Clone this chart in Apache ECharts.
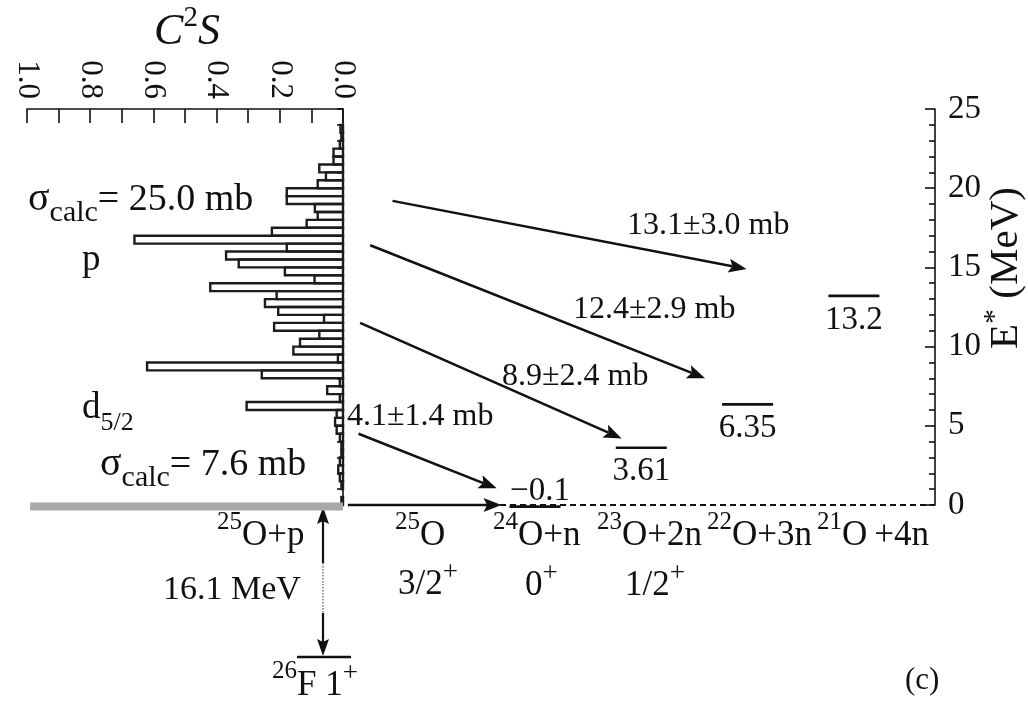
<!DOCTYPE html>
<html>
<head>
<meta charset="utf-8">
<script src="https://cdn.jsdelivr.net/npm/echarts@6/dist/echarts.min.js"></script>
<style>
  html, body { margin: 0; padding: 0; background: #fff; }
  #chart { width: 1028px; height: 704px; }
</style>
</head>
<body>
<div id="chart"></div>
<script>
// ---- data -------------------------------------------------------------
// Calculated spectroscopic strength C2S for 26F(1+) -> 25O* + p, in 0.5 MeV bins
const binWidth = 0.5;
const binLow = [0, 0.5, 1, 1.5, 2, 2.5, 3, 3.5, 4, 4.5, 5, 5.5, 6, 6.5, 7, 7.5, 8, 8.5, 9, 9.5,
  10, 10.5, 11, 11.5, 12, 12.5, 13, 13.5, 14, 14.5, 15, 15.5, 16, 16.5, 17, 17.5, 18, 18.5, 19, 19.5,
  20, 20.5, 21, 21.5, 22, 22.5, 23, 23.5, 24];
const c2s = [0.005, 0, 0.005, 0.01, 0.015, 0.01, 0.005, 0.005, 0.01, 0.02, 0.025, 0.02, 0.305, 0.01, 0.05, 0.01, 0.257, 0.62, 0.016, 0.157,
  0.136, 0.075, 0.218, 0.06, 0.205, 0.247, 0.21, 0.42, 0.09, 0.184, 0.33, 0.37, 0.178, 0.66, 0.225, 0.115, 0.08, 0.089, 0.178, 0.178,
  0.08, 0.054, 0.075, 0.03, 0.03, 0.01, 0.005, 0.008, 0];

// 25O + p threshold
const thresholdE = -0.1;

// Decay channels and the lowest level in each (MeV)
const channelNames = ['25O', '24O+n', '23O+2n', '22O+3n', '21O+4n'];
const levelChannel = [1, 2, 3, 4];
const levelEnergy = [-0.1, 3.61, 6.35, 13.2];

// Measured partial cross sections, and the energies each transition connects
const xsecLabels = ['13.1±3.0 mb', '12.4±2.9 mb', '8.9±2.4 mb', '4.1±1.4 mb'];
const arrowFromE = [19.2, 16.4, 11.5, 4.5, 0];
const arrowToE = [14.9, 8.0, 4.2, 1.05, 0];

// Axis ticks
const c2sTicks = ['1.0', '0.8', '0.6', '0.4', '0.2', '0.0'];
const energyTicks = ['0', '5', '10', '15', '20', '25'];

const protonSeparation = '16.1 MeV';
const sigmaHigh = '25.0 mb';
const sigmaLow = '7.6 mb';

// ---- layout ------------------------------------------------------------
const FONT = '"Liberation Serif","Times New Roman",serif';
const INK = '#111';
// horizontal slots (channel units) where each arrow starts and ends
const arrowStartSlot = [-0.34, -0.55, -0.645, -0.66, -0.76];
const arrowEndSlot = [2.99, 2.6, 1.815, 0.64, 0.685];
const levelHalfWidth = 0.24;

const mctx = document.createElement('canvas').getContext('2d');
function textWidth(t, size, style) {
  mctx.font = (style || 'normal') + ' ' + size + 'px ' + FONT;
  return mctx.measureText(t).width;
}
// A run of text pieces sharing one baseline: [text, size, baselineShift, fontStyle]
function textRun(x, y, parts, align, rotation) {
  let total = 0;
  parts.forEach(p => { total += textWidth(p[0], p[1], p[3]); });
  let cx = align === 'center' ? -total / 2 : (align === 'right' ? -total : 0);
  const children = parts.map(p => {
    const el = {
      type: 'text', x: cx, y: (p[2] || 0) - 0.34 * p[1],
      style: { text: p[0], fontSize: p[1], fontFamily: FONT, fontStyle: p[3] || 'normal',
               fill: INK, align: 'left', verticalAlign: 'middle' }
    };
    cx += textWidth(p[0], p[1], p[3]);
    return el;
  });
  return { type: 'group', x: x, y: y, rotation: rotation || 0, silent: true, children: children };
}
function iso(mass, rest, x, y, size) {
  const s = size || 35;
  return textRun(x, y, [[mass, Math.round(s * 0.7), -0.5 * s], [rest, s, 0]], 'left');
}

const histData = binLow.map((lo, i) => [lo, lo + binWidth, c2s[i]]).filter(d => d[2] > 0);
const levelData = levelEnergy.map((e, i) => [levelChannel[i], e, i]);
const arrowData = arrowFromE.map((e, i) => [arrowStartSlot[i], e, arrowEndSlot[i], arrowToE[i]]);

const chart = echarts.init(document.getElementById('chart'));

const axisLineStyle = { color: INK, width: 1.6 };

const option = {
  animation: false,
  backgroundColor: '#fff',
  grid: [
    { left: 27, top: 109, width: 316, height: 396 },
    { left: 343, top: 109, width: 592, height: 396 }
  ],
  xAxis: [
    {
      gridIndex: 0, type: 'value', min: 0, max: 1, inverse: true, position: 'top', interval: 0.1,
      axisLine: { show: true, onZero: false, lineStyle: axisLineStyle },
      axisTick: { show: true, inside: true, length: 14, lineStyle: axisLineStyle },
      axisLabel: {
        rotate: 90, margin: 10, fontFamily: FONT, fontSize: 31, color: INK,
        formatter: v => {
          const k = Math.round(v * 10);
          return k % 2 === 0 ? c2sTicks[5 - k / 2] : '';
        }
      },
      splitLine: { show: false }
    },
    { gridIndex: 1, type: 'value', min: -0.806, max: 4.763, show: false }
  ],
  yAxis: [
    {
      gridIndex: 0, type: 'value', min: 0, max: 25, interval: 1, position: 'right',
      axisLine: { show: true, onZero: false, lineStyle: axisLineStyle },
      axisTick: { show: true, inside: true, length: 6, lineStyle: axisLineStyle },
      axisLabel: { show: false }, splitLine: { show: false }
    },
    {
      gridIndex: 1, type: 'value', min: 0, max: 25, interval: 5, position: 'right',
      axisLine: { show: true, onZero: false, lineStyle: axisLineStyle },
      axisTick: { show: true, inside: true, length: 10, lineStyle: axisLineStyle },
      minorTick: { show: true, splitNumber: 5, length: 6, lineStyle: axisLineStyle },
      axisLabel: {
        margin: 13, fontFamily: FONT, fontSize: 33, color: INK,
        formatter: v => energyTicks[Math.round(v / 5)]
      },
      splitLine: { show: false }
    }
  ],
  series: [
    {
      // outlined histogram bars, growing leftwards from C2S = 0
      type: 'custom', xAxisIndex: 0, yAxisIndex: 0, silent: true, clip: false,
      data: histData,
      renderItem: (params, api) => {
        const p0 = api.coord([0, api.value(0)]);
        const p1 = api.coord([api.value(2), api.value(1)]);
        return {
          type: 'rect',
          shape: { x: Math.min(p0[0], p1[0]), y: Math.min(p0[1], p1[1]),
                   width: Math.abs(p1[0] - p0[0]), height: Math.abs(p1[1] - p0[1]) },
          style: { fill: 'none', stroke: '#1c1c1c', lineWidth: 2.4 }
        };
      }
    },
    {
      // 25O + p threshold band
      type: 'line', xAxisIndex: 0, yAxisIndex: 0, silent: true, clip: false,
      symbol: 'none', data: [[0.99, thresholdE], [0, thresholdE]],
      lineStyle: { color: '#a8a8a8', width: 8 }
    },
    {
      // neutron-emission threshold line
      type: 'line', xAxisIndex: 1, yAxisIndex: 1, silent: true, clip: false,
      symbol: 'none', data: [[-0.74, 0], [4.763, 0]],
      lineStyle: { color: INK, width: 2, type: [6, 4] }
    },
    {
      // level bars with their energies
      type: 'custom', xAxisIndex: 1, yAxisIndex: 1, silent: true, clip: false,
      data: levelData,
      renderItem: (params, api) => {
        const slot = api.value(0), e = api.value(1);
        const a = api.coord([slot - levelHalfWidth, e]);
        const b = api.coord([slot + levelHalfWidth, e]);
        const above = e <= 0;
        const txt = e < 0 ? '\u2212' + Math.abs(e) : String(e);
        return {
          type: 'group',
          children: [
            { type: 'line', shape: { x1: a[0], y1: a[1], x2: b[0], y2: b[1] },
              style: { stroke: INK, lineWidth: 2.6 } },
            { type: 'text', x: (a[0] + b[0]) / 2 + (above ? 5 : 0), y: above ? a[1] - 15 : a[1] + 24,
              style: { text: txt, fontSize: 33, fontFamily: FONT, fill: INK, align: 'center', verticalAlign: 'middle' } }
          ]
        };
      }
    },
    {
      // transition arrows
      type: 'custom', xAxisIndex: 1, yAxisIndex: 1, silent: true, clip: false,
      data: arrowData,
      renderItem: (params, api) => {
        const a = api.coord([api.value(0), api.value(1)]);
        const b = api.coord([api.value(2), api.value(3)]);
        const dx = b[0] - a[0], dy = b[1] - a[1];
        const L = Math.hypot(dx, dy), ux = dx / L, uy = dy / L;
        const hl = 18, hw = 7;
        const base = [b[0] - ux * hl, b[1] - uy * hl];
        const notch = [b[0] - ux * hl * 0.8, b[1] - uy * hl * 0.8];
        return {
          type: 'group',
          children: [
            { type: 'line', shape: { x1: a[0], y1: a[1], x2: notch[0], y2: notch[1] },
              style: { stroke: INK, lineWidth: 2.5 } },
            { type: 'polygon',
              shape: { points: [b, [base[0] - uy * hw, base[1] + ux * hw], notch, [base[0] + uy * hw, base[1] - ux * hw]] },
              style: { fill: INK } }
          ]
        };
      }
    }
  ],
  graphic: [
    // axis titles
    textRun(187, 47, [['C', 44, 0, 'italic'], ['2', 29, -19, 'normal'], ['S', 44, 0, 'italic']], 'center'),
    textRun(1020, 268, [['E', 41, 0], ['*', 30, -15], [' (MeV)', 41, 0]], 'center', Math.PI / 2),

    // calculated cross sections of the histogram
    textRun(28, 213, [['σ', 40, 0], ['calc', 30, 10], ['= ' + sigmaHigh, 38, 0]], 'left'),
    textRun(82, 273, [['p', 37, 0]], 'left'),
    textRun(82, 421, [['d', 37, 0], ['5/2', 26, 11]], 'left'),
    textRun(100, 478, [['σ', 40, 0], ['calc', 30, 10], ['= ' + sigmaLow, 38, 0]], 'left'),

    // partial cross sections
    textRun(627, 236, [[xsecLabels[0], 32, 0]], 'left'),
    textRun(573, 320, [[xsecLabels[1], 32, 0]], 'left'),
    textRun(502, 387, [[xsecLabels[2], 32, 0]], 'left'),
    textRun(347, 427, [[xsecLabels[3], 32, 0]], 'left'),

    // channel names and spins
    iso('25', 'O', 395, 548),
    textRun(398, 597, [['3/2', 35, 0], ['+', 27, -15]], 'left'),
    iso('24', 'O+n', 493, 548),
    textRun(525, 598, [['0', 35, 0], ['+', 27, -15]], 'left'),
    iso('23', 'O+2n', 597, 548),
    textRun(625, 598, [['1/2', 35, 0], ['+', 27, -15]], 'left'),
    iso('22', 'O+3n', 707, 548),
    iso('21', 'O\u2009+4n', 817, 548),

    // 26F ground state and proton separation
    iso('25', 'O+p', 217, 548),
    textRun(163, 602, [[protonSeparation, 34, 0]], 'left'),
    { type: 'line', silent: true, shape: { x1: 323, y1: 520, x2: 323, y2: 563 }, style: { stroke: INK, lineWidth: 2.2 } },
    { type: 'line', silent: true, shape: { x1: 323, y1: 563, x2: 323, y2: 613 }, style: { stroke: '#999', lineWidth: 2, lineDash: [1.5, 1.5] } },
    { type: 'line', silent: true, shape: { x1: 323, y1: 613, x2: 323, y2: 642 }, style: { stroke: INK, lineWidth: 2.2 } },
    { type: 'polygon', silent: true, shape: { points: [[323, 507], [317, 524], [323, 521], [329, 524]] }, style: { fill: INK } },
    { type: 'polygon', silent: true, shape: { points: [[323, 656], [317, 639], [323, 642], [329, 639]] }, style: { fill: INK } },
    { type: 'line', silent: true, shape: { x1: 297, y1: 657, x2: 351, y2: 657 }, style: { stroke: INK, lineWidth: 2.6 } },
    textRun(272, 698, [['26', 25, -18], ['F ', 35, 0], ['1', 35, 0], ['+', 27, -15]], 'left'),

    textRun(905, 691, [['(c)', 31, 0]], 'left')
  ]
};

chart.setOption(option);
</script>
</body>
</html>
